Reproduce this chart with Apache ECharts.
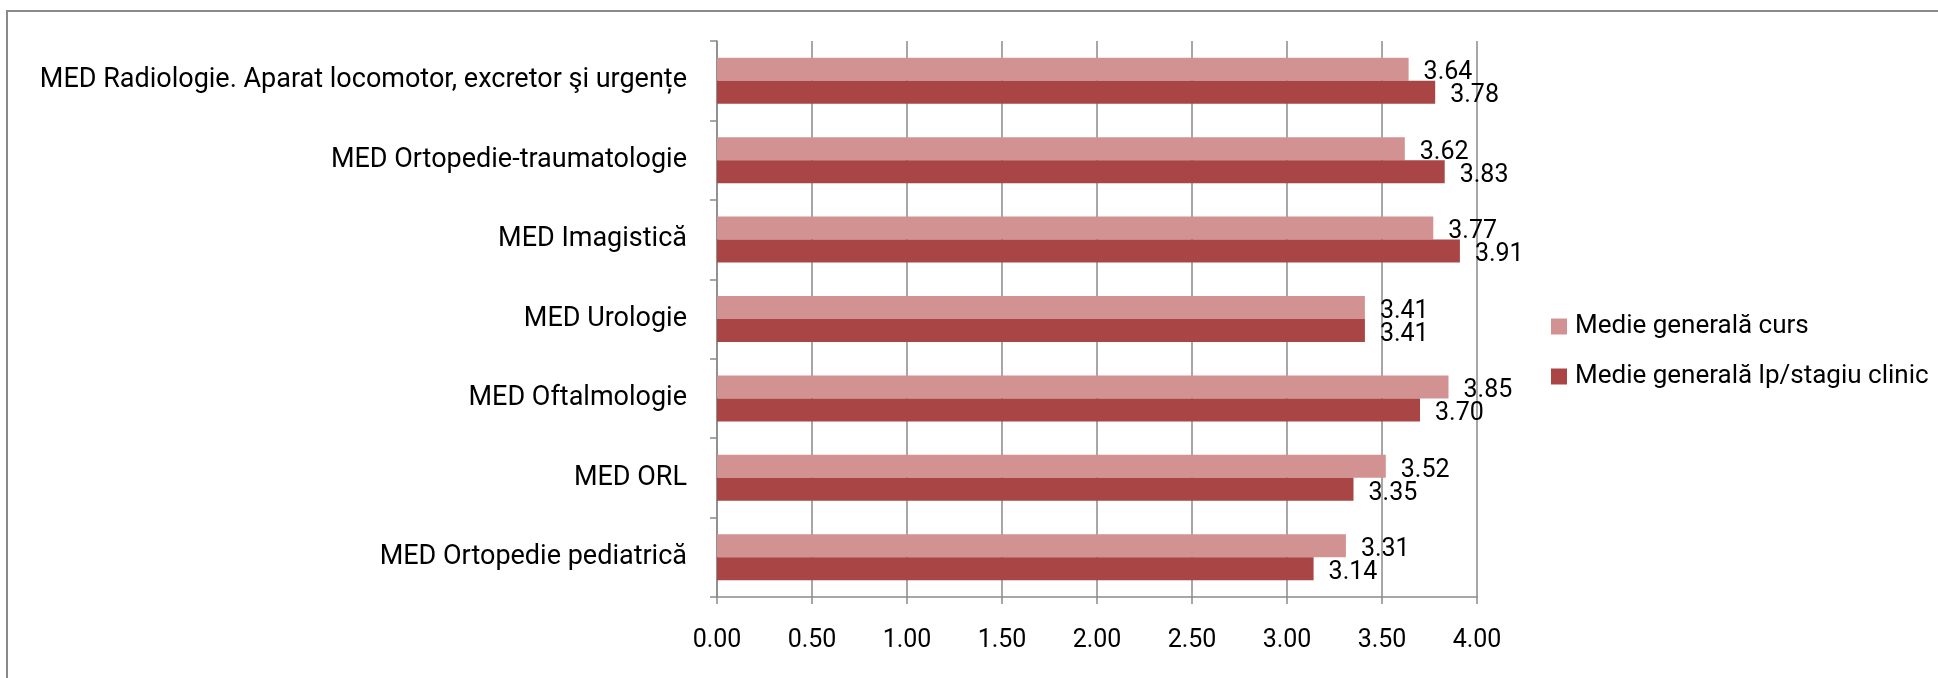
<!DOCTYPE html>
<html>
<head>
<meta charset="utf-8">
<script src="https://cdn.jsdelivr.net/npm/echarts@6/dist/echarts.min.js"></script>
<style>
  html, body { margin: 0; padding: 0; background: #fff; }
  #chart { width: 1938px; height: 678px; }
</style>
</head>
<body>
<div id="chart"></div>
<script>
// categories top to bottom, as in the picture
const categories = [
  'MED Radiologie. Aparat locomotor, excretor şi urgențe',
  'MED Ortopedie-traumatologie',
  'MED Imagistică',
  'MED Urologie',
  'MED Oftalmologie',
  'MED ORL',
  'MED Ortopedie pediatrică'
];
const seriesNames = ['Medie generală curs', 'Medie generală lp/stagiu clinic'];
const cursValues = [3.64, 3.62, 3.77, 3.41, 3.85, 3.52, 3.31];
const lpValues = [3.78, 3.83, 3.91, 3.41, 3.70, 3.35, 3.14];

const FONT = 'Roboto, "Liberation Sans", sans-serif';
const GRID_GREY = '#8a8a8a';

const chart = echarts.init(document.getElementById('chart'), null, { renderer: 'canvas' });

function barLabel() {
  return {
    show: true,
    position: 'right',
    distance: 15,
    offset: [0, 4],
    color: '#000',
    fontFamily: FONT,
    fontSize: 25,
    formatter: (p) => p.value.toFixed(2)
  };
}

chart.setOption({
  backgroundColor: '#fff',
  animation: false,
  textStyle: { fontFamily: FONT },
  graphic: [{
    type: 'rect',
    shape: { x: 7, y: 11, width: 1980, height: 720 },
    style: { fill: 'none', stroke: GRID_GREY, lineWidth: 2 },
    silent: true,
    z: 0
  }],
  grid: { left: 717, top: 41, right: 461, bottom: 81, containLabel: false },
  legend: {
    orient: 'vertical',
    left: 1546,
    top: 308,
    itemWidth: 16,
    itemHeight: 16,
    itemGap: 23,
    icon: 'rect',
    data: seriesNames,
    textStyle: { color: '#000', fontFamily: FONT, fontSize: 26, lineHeight: 27, padding: [0, 0, 0, 3] }
  },
  xAxis: {
    type: 'value',
    min: 0,
    max: 4,
    interval: 0.5,
    axisLine: { show: true, lineStyle: { color: GRID_GREY, width: 1.5 } },
    axisTick: { show: true, inside: false, length: 7, lineStyle: { color: GRID_GREY, width: 1.5 } },
    axisLabel: {
      color: '#000',
      fontFamily: FONT,
      fontSize: 25,
      margin: 31,
      formatter: (v) => v.toFixed(2)
    },
    splitLine: { show: true, lineStyle: { color: GRID_GREY, width: 1.5 } }
  },
  yAxis: {
    type: 'category',
    inverse: true,
    data: categories,
    axisLine: { show: true, lineStyle: { color: GRID_GREY, width: 1.5 } },
    axisTick: { show: true, inside: false, length: 7, lineStyle: { color: GRID_GREY, width: 1.5 } },
    axisLabel: { color: '#000', fontFamily: FONT, fontSize: 27, margin: 30 },
    splitLine: { show: false }
  },
  series: [
    {
      name: seriesNames[0],
      type: 'bar',
      data: cursValues,
      barWidth: 23,
      barGap: '0%',
      itemStyle: { color: '#D29292' },
      label: barLabel()
    },
    {
      name: seriesNames[1],
      type: 'bar',
      data: lpValues,
      barWidth: 23,
      barGap: '0%',
      itemStyle: { color: '#A94645' },
      label: barLabel()
    }
  ]
});
</script>
</body>
</html>
